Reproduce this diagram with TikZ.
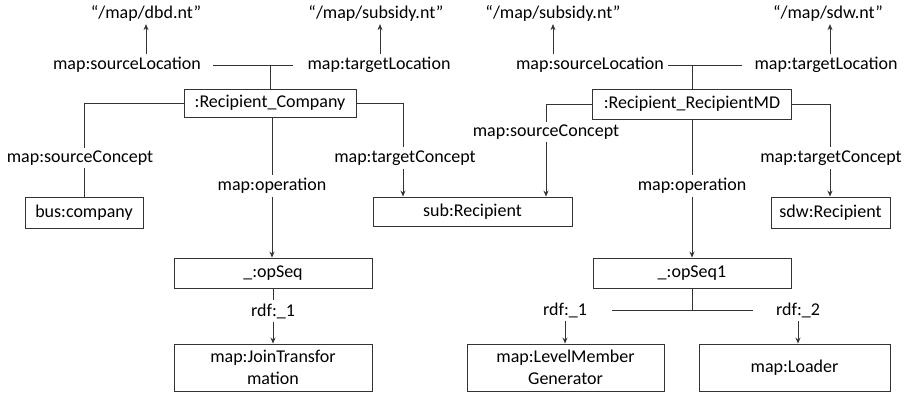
\documentclass[tikz,border=0pt]{standalone}
\usepackage{fontspec}
\setmainfont{Carlito}
\usetikzlibrary{arrows.meta}
\begin{document}
\begin{tikzpicture}[x=1pt,y=-1pt,
  font=\fontsize{18}{22}\selectfont,
  lbl/.style={inner sep=3pt},
  bx/.style={draw=black!80,line width=0.9pt,inner sep=0pt,align=center},
  ln/.style={draw=black!80,line width=0.9pt},
  ar/.style={ln,-{Stealth[length=6pt,width=5pt]}}]
\useasboundingbox (0,0) rectangle (904,394);
% top literals
\node[lbl] (dbd) at (146,13) {“/map/dbd.nt”};
\node[lbl] (subs1) at (376,13) {“/map/subsidy.nt”};
\node[lbl] (subs2) at (553,13) {“/map/subsidy.nt”};
\node[lbl] (sdw) at (828,13) {“/map/sdw.nt”};
% location labels
\node[lbl] (sl1) at (127,65) {map:sourceLocation};
\node[lbl] (tl1) at (379,65) {map:targetLocation};
\node[lbl] (sl2) at (590,65) {map:sourceLocation};
\node[lbl] (tl2) at (826,65) {map:targetLocation};
% main boxes
\node[bx,minimum width=172pt,minimum height=28pt] (rc) at (270,103) {:Recipient\_Company};
\node[bx,minimum width=199pt,minimum height=30pt] (rmd) at (692,104) {:Recipient\_RecipientMD};
% concept labels
\node[lbl] (sc1) at (80,158) {map:sourceConcept};
\node[lbl] (tc1) at (405,158) {map:targetConcept};
\node[lbl] (sc2) at (546,132) {map:sourceConcept};
\node[lbl] (tc2) at (831,158) {map:targetConcept};
\node[lbl] (op1) at (272,186) {map:operation};
\node[lbl] (op2) at (692,186) {map:operation};
% concept boxes
\node[bx,minimum width=118pt,minimum height=31pt] (bus) at (84,212.5) {bus:company};
\node[bx,minimum width=199pt,minimum height=29pt] (subR) at (472.5,211.5) {sub:Recipient};
\node[bx,minimum width=119pt,minimum height=31pt] (sdwR) at (830.5,212.5) {sdw:Recipient};
% sequences
\node[bx,minimum width=198pt,minimum height=30pt] (seq) at (273,273) {\_:opSeq};
\node[bx,minimum width=198pt,minimum height=30pt] (seq1) at (692,273) {\_:opSeq1};
\node[lbl] (r1a) at (273,311) {rdf:\_1};
\node[lbl] (r1b) at (565,310) {rdf:\_1};
\node[lbl] (r2b) at (798,310) {rdf:\_2};
\node[bx,minimum width=198pt,minimum height=47pt] (jt) at (273,367.5) {map:JoinTransfor\\mation};
\node[bx,minimum width=197pt,minimum height=47pt] (lmg) at (565.5,367.5) {map:LevelMember\\Generator};
\node[bx,minimum width=191pt,minimum height=47pt] (ld) at (794.5,367.5) {map:Loader};
% junction coordinates
\coordinate (h1l) at (213,65);
\coordinate (h1r) at (293,65);
\coordinate (h2l) at (668,65);
\coordinate (h2r) at (742,65);
\coordinate (h3l) at (612,310);
\coordinate (h3r) at (753,310);
% location connectors
\draw[ln] (h1l) -- (h1r);
\draw[ln] (rc.north) -- (rc.north |- h1l);
\draw[ar] (sl1.north -| dbd.south) -- (dbd.south);
\draw[ar] ([xshift=1pt]tl1.north) -- ([xshift=1pt]tl1.north |- subs1.south);
\draw[ln] (h2l) -- (h2r);
\draw[ln] (rmd.north) -- (rmd.north |- h2l);
\draw[ar] (sl2.north -| subs2.south) -- (subs2.south);
\draw[ar] ([xshift=4pt]tl2.north) -- ([xshift=4pt]tl2.north |- sdw.south);
% concept connectors
\draw[ln] (rc.west) -| (bus.north |- sc1.north);
\draw[ln] (sc1.south -| bus.north) -- (bus.north);
\draw[ln] (rc.east) -| ([xshift=-2pt]tc1.north);
\draw[ar] ([xshift=-2pt]tc1.south) -- ([xshift=-2pt]tc1.south |- subR.north);
\draw[ln] (rmd.west) -| (sc2.north);
\draw[ar] (sc2.south) -- (sc2.south |- subR.north);
\draw[ln] (rmd.east) -| ([xshift=-1pt]tc2.north);
\draw[ar] ([xshift=-1pt]tc2.south) -- ([xshift=-1pt]tc2.south |- sdwR.north);
% operation connectors
\draw[ln] (op1.north |- rc.south) -- (op1.north);
\draw[ar] (op1.south) -- (op1.south |- seq.north);
\draw[ln] (op2.north |- rmd.south) -- (op2.north);
\draw[ar] (op2.south) -- (op2.south |- seq1.north);
% sequence connectors
\draw[ln] (seq.south) -- (r1a.north);
\draw[ar] (r1a.south) -- (jt.north);
\draw[ln] (seq1.south) -- (seq1.south |- h3l);
\draw[ln] (h3l) -- (h3r);
\draw[ar] (r1b.south) -- (r1b.south |- lmg.north);
\draw[ar] (r2b.south) -- (r2b.south |- ld.north);
\end{tikzpicture}
\end{document}
